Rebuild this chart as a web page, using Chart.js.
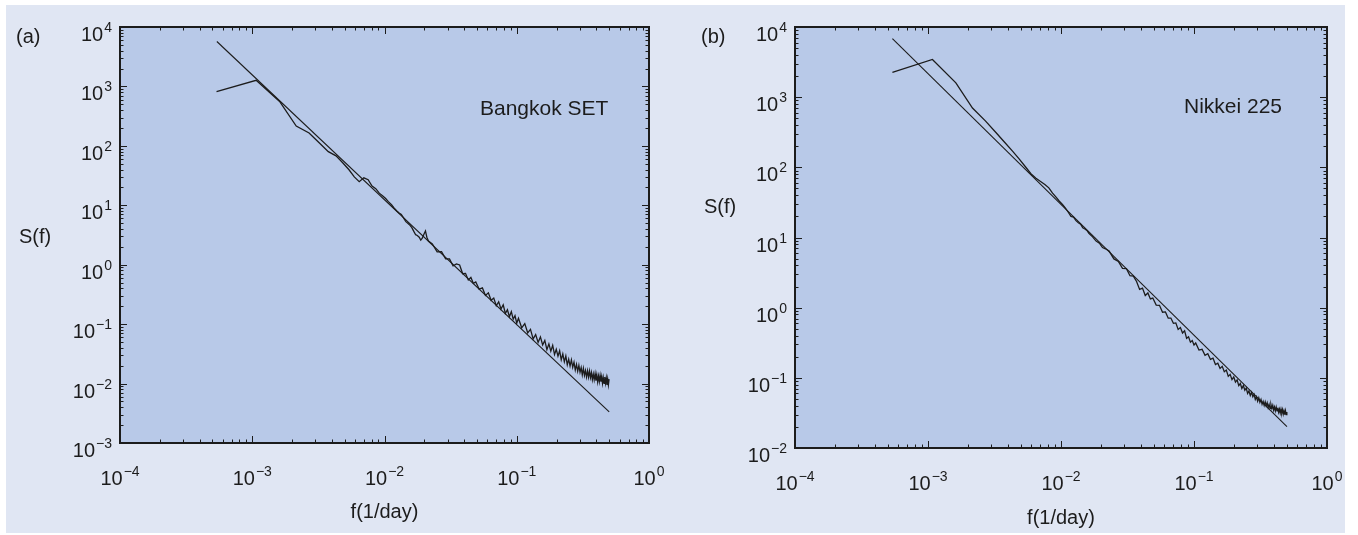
<!DOCTYPE html>
<html>
<head>
<meta charset="utf-8">
<script src="https://cdn.jsdelivr.net/npm/chart.js@4.4.0/dist/chart.umd.min.js"></script>
<style>
  body { margin: 0; background: #fff; }
  #page { position: relative; width: 1358px; height: 535px; background: #fff; overflow: hidden; }
  #panel { position: absolute; left: 6px; top: 5px; width: 1339px; height: 528px; background: #e0e6f3; }
  .box { position: absolute; top: 0; width: 679px; height: 535px; }
</style>
</head>
<body>
<div id="page">
  <div id="panel"></div>
  <div class="box" style="left:0"><canvas id="chartA" width="679" height="535"></canvas></div>
  <div class="box" style="left:679px"><canvas id="chartB" width="679" height="535"></canvas></div>
</div>
<script>
// ---- dados (periodograma, escala log-log) ----
const bangkokFreq = [
  0.000537, 0.00107, 0.00161, 0.00215, 0.00269, 0.00322, 0.00376, 0.0043, 0.00483, 0.00537,
  0.00591, 0.00644, 0.00698, 0.00752, 0.00805, 0.00859, 0.00913, 0.00966, 0.0102, 0.0107,
  0.0113, 0.0118, 0.0124, 0.0129, 0.0134, 0.014, 0.0145, 0.015, 0.0156, 0.0161,
  0.0167, 0.0172, 0.0177, 0.0183, 0.0188, 0.0193, 0.0199, 0.0204, 0.0209, 0.0215,
  0.023, 0.025, 0.027, 0.029, 0.031, 0.033, 0.035, 0.037, 0.039, 0.041,
  0.043, 0.045, 0.047, 0.049, 0.052, 0.055, 0.058, 0.061, 0.064, 0.067,
  0.07, 0.073, 0.076, 0.079, 0.082, 0.085, 0.088, 0.091, 0.094, 0.097, 0.1,
  0.103, 0.109, 0.115, 0.121, 0.127, 0.133, 0.139, 0.145, 0.151, 0.157,
  0.163, 0.169, 0.175, 0.181, 0.187, 0.193, 0.199, 0.205, 0.211, 0.217,
  0.223, 0.229, 0.235, 0.241, 0.247, 0.253, 0.259, 0.265, 0.271, 0.277,
  0.283, 0.289, 0.295, 0.301, 0.307, 0.313, 0.319, 0.325, 0.331, 0.337,
  0.343, 0.349, 0.355, 0.361, 0.367, 0.373, 0.379, 0.385, 0.391, 0.397,
  0.403, 0.409, 0.415, 0.421, 0.427, 0.433, 0.439, 0.445, 0.451, 0.457,
  0.463, 0.469, 0.475, 0.481, 0.487, 0.493, 0.499
];
const bangkokPower = [
  820, 1270, 560, 215, 165, 112, 80, 68, 52, 40,
  30, 25, 29, 27, 21, 19, 16, 14.5, 13, 11.5,
  10.2, 9.0, 8.0, 7.4, 7.0, 6.0, 5.3, 5.0, 4.6, 4.2,
  3.6, 3.2, 3.1, 2.9, 2.6, 2.8, 3.3, 3.7, 2.9, 2.5,
  2.24, 1.64, 1.66, 1.26, 1.25, 0.96, 1.03, 0.99, 0.705, 0.715,
  0.555, 0.611, 0.485, 0.513, 0.387, 0.407, 0.304, 0.336, 0.252, 0.275,
  0.204, 0.238, 0.18, 0.212, 0.151, 0.175, 0.133, 0.162, 0.121, 0.139, 0.104,
  0.1256, 0.0867, 0.1019, 0.0715, 0.0817, 0.0565, 0.0667, 0.0493, 0.061, 0.0446,
  0.0531, 0.0372, 0.0465, 0.035, 0.0439, 0.0308, 0.0377, 0.029, 0.0356, 0.0251,
  0.0315, 0.0232, 0.0292, 0.0207, 0.0257, 0.0197, 0.0251, 0.0188, 0.0229, 0.0169,
  0.021, 0.0161, 0.0202, 0.0155, 0.0186, 0.014, 0.018, 0.0137, 0.0166, 0.0129,
  0.0164, 0.0128, 0.0162, 0.0126, 0.0153, 0.0117, 0.0145, 0.0116, 0.0147, 0.0112,
  0.014, 0.0107, 0.0134, 0.0108, 0.0137, 0.0108, 0.0131, 0.0101, 0.0126, 0.0101,
  0.0129, 0.0102, 0.0124, 0.0095, 0.0119, 0.0095, 0.0119
];

const nikkeiFreq = [
  0.00054, 0.00108, 0.00162, 0.00216, 0.0027, 0.00324, 0.00378, 0.00432, 0.00486, 0.0054,
  0.00594, 0.00648, 0.00702, 0.00756, 0.0081, 0.00864, 0.00918, 0.00972, 0.01026, 0.0108,
  0.01134, 0.01188, 0.01242, 0.01296, 0.0135, 0.01404, 0.01458, 0.01512, 0.01566, 0.0162,
  0.01728, 0.01836, 0.01944, 0.02052, 0.0216,
  0.023, 0.025, 0.027, 0.029, 0.031, 0.033, 0.035, 0.037, 0.039, 0.041,
  0.043, 0.045, 0.047, 0.049, 0.052, 0.055, 0.058, 0.061, 0.064, 0.067,
  0.07, 0.073, 0.076, 0.079, 0.082, 0.085, 0.088, 0.091, 0.094, 0.097, 0.1,
  0.103, 0.109, 0.115, 0.121, 0.127, 0.133, 0.139, 0.145, 0.151, 0.157,
  0.163, 0.169, 0.175, 0.181, 0.187, 0.193, 0.199, 0.205, 0.211, 0.217,
  0.223, 0.229, 0.235, 0.241, 0.247, 0.253, 0.259, 0.265, 0.271, 0.277,
  0.283, 0.289, 0.295, 0.301, 0.307, 0.313, 0.319, 0.325, 0.331, 0.337,
  0.343, 0.349, 0.355, 0.361, 0.367, 0.373, 0.379, 0.385, 0.391, 0.397,
  0.403, 0.409, 0.415, 0.421, 0.427, 0.433, 0.439, 0.445, 0.451, 0.457,
  0.463, 0.469, 0.475, 0.481, 0.487, 0.493, 0.499
];
const nikkeiPower = [
  2250, 3450, 1600, 700, 460, 314, 226, 170, 131, 102,
  81, 70, 63, 57, 51, 43, 37.6, 32.9, 29.5, 26.3,
  22.9, 19.95, 19.5, 17.4, 16.2, 15.5, 13.8, 13.2, 12.6, 11.5,
  10.2, 8.9, 8.3, 7.2, 6.9,
  6.41, 4.95, 4.56, 3.64, 3.61, 2.85, 2.81, 2.36, 1.82, 1.9,
  1.49, 1.62, 1.33, 1.37, 1.09, 1.08, 0.861, 0.869, 0.708, 0.711,
  0.598, 0.607, 0.49, 0.522, 0.435, 0.468, 0.365, 0.384, 0.322, 0.34, 0.294,
  0.314, 0.249, 0.255, 0.209, 0.221, 0.183, 0.191, 0.155, 0.162, 0.136,
  0.146, 0.122, 0.129, 0.105, 0.112, 0.0942, 0.103, 0.0871, 0.0933, 0.0774,
  0.083, 0.0706, 0.0776, 0.0664, 0.0713, 0.06, 0.065, 0.056, 0.0622, 0.0538,
  0.0583, 0.0493, 0.0537, 0.0465, 0.0519, 0.0448, 0.0492, 0.0421, 0.0462, 0.0404,
  0.0456, 0.0398, 0.044, 0.0377, 0.0417, 0.0366, 0.0415, 0.0366, 0.0405, 0.0347,
  0.0385, 0.0338, 0.0384, 0.0338, 0.0375, 0.0323, 0.0357, 0.0315, 0.0358, 0.0316,
  0.0352, 0.0303, 0.0337, 0.0299, 0.034, 0.03, 0.0327
];

// retas de ajuste (lei de potência): dois extremos
const fitFreq = [0.00054, 0.5];
const bangkokFit = [5700, 0.00335];
const nikkeiFit = [6840, 0.0202];

// expoentes dos rótulos dos eixos (10^n)
const xTickExp = [-4, -3, -2, -1, 0];
const yTickExpA = [-3, -2, -1, 0, 1, 2, 3, 4];
const yTickExpB = [-2, -1, 0, 1, 2, 3, 4];

const FONT = '"Liberation Sans", Arial, Helvetica, sans-serif';
const INK = '#1c1c1c';

function toPoints(xs, ys) {
  return xs.map((x, i) => ({ x: x, y: ys[i] }));
}

function supText(n) {
  return n < 0 ? '\u2212' + Math.abs(n) : String(n);
}

// desenha "10" com expoente sobrescrito
function drawPow(ctx, n, x, yBase, align) {
  ctx.font = '20px ' + FONT;
  const wBase = ctx.measureText('10').width;
  ctx.font = '14px ' + FONT;
  const e = supText(n);
  const wExp = ctx.measureText(e).width;
  const total = wBase + wExp + 1;
  let x0 = align === 'right' ? x - total : x - total / 2;
  ctx.textAlign = 'left';
  ctx.textBaseline = 'alphabetic';
  ctx.font = '20px ' + FONT;
  ctx.fillText('10', x0, yBase);
  ctx.font = '14px ' + FONT;
  ctx.fillText(e, x0 + wBase + 1, yBase - 9);
}

const framePlugin = {
  id: 'frame',
  beforeDraw(chart, args, opts) {
    const { ctx, chartArea: a } = chart;
    ctx.save();
    ctx.fillStyle = '#b8c9e8';
    ctx.fillRect(a.left, a.top, a.right - a.left, a.bottom - a.top);
    ctx.restore();
  },
  afterDraw(chart, args, opts) {
    const { ctx, chartArea: a } = chart;
    const xs = chart.scales.x, ys = chart.scales.y;
    ctx.save();
    ctx.strokeStyle = INK;
    ctx.fillStyle = INK;

    // marcas (maiores e menores) nos quatro lados, para dentro
    ctx.lineWidth = 1;
    const xMin = Math.log10(xs.min), xMax = Math.log10(xs.max);
    for (let d = xMin; d <= xMax; d++) {
      for (let m = 1; m <= 9; m++) {
        if (d === xMax && m > 1) break;
        const px = Math.round(xs.getPixelForValue(m * Math.pow(10, d))) + 0.5;
        const len = m === 1 ? 7 : 3.5;
        ctx.beginPath();
        ctx.moveTo(px, a.bottom); ctx.lineTo(px, a.bottom - len);
        ctx.moveTo(px, a.top); ctx.lineTo(px, a.top + len);
        ctx.stroke();
      }
    }
    const yMin = Math.log10(ys.min), yMax = Math.log10(ys.max);
    for (let d = yMin; d <= yMax; d++) {
      for (let m = 1; m <= 9; m++) {
        if (d === yMax && m > 1) break;
        const py = Math.round(ys.getPixelForValue(m * Math.pow(10, d))) + 0.5;
        const len = m === 1 ? 7 : 3.5;
        ctx.beginPath();
        ctx.moveTo(a.left, py); ctx.lineTo(a.left + len, py);
        ctx.moveTo(a.right, py); ctx.lineTo(a.right - len, py);
        ctx.stroke();
      }
    }

    // moldura
    ctx.lineWidth = 2;
    ctx.strokeRect(a.left, a.top, a.right - a.left, a.bottom - a.top);

    // rótulos dos eixos
    opts.xExp.forEach(n => {
      drawPow(ctx, n, xs.getPixelForValue(Math.pow(10, n)), a.bottom + 42, 'center');
    });
    opts.yExp.forEach(n => {
      drawPow(ctx, n, a.left - 8, ys.getPixelForValue(Math.pow(10, n)) + 14, 'right');
    });

    // títulos e anotações
    ctx.textBaseline = 'alphabetic';
    ctx.font = '20px ' + FONT;
    ctx.textAlign = 'left';
    ctx.fillText(opts.panel, opts.panelX, 43);
    ctx.fillText('S(f)', opts.yTitleX, opts.yTitleY);
    ctx.textAlign = 'center';
    ctx.fillText('f(1/day)', (a.left + a.right) / 2, opts.xTitleY);
    ctx.font = '21px ' + FONT;
    ctx.textAlign = 'left';
    ctx.fillText(opts.label, opts.labelX, opts.labelY);
    ctx.restore();
  }
};

function makePanel(id, freq, power, fit, yMin, pad, frameOpts) {
  return new Chart(document.getElementById(id), {
    type: 'line',
    data: {
      datasets: [
        {
          data: toPoints(freq, power),
          borderColor: INK,
          borderWidth: 1.3,
          pointRadius: 0,
          tension: 0,
          fill: false
        },
        {
          data: toPoints(fitFreq, fit),
          borderColor: INK,
          borderWidth: 1.1,
          pointRadius: 0,
          tension: 0,
          fill: false
        }
      ]
    },
    options: {
      responsive: false,
      animation: false,
      layout: { padding: pad },
      plugins: {
        legend: { display: false },
        tooltip: { enabled: false },
        frame: frameOpts
      },
      scales: {
        x: { type: 'logarithmic', min: 1e-4, max: 1, display: false },
        y: { type: 'logarithmic', min: yMin, max: 1e4, display: false }
      }
    },
    plugins: [framePlugin]
  });
}

makePanel('chartA', bangkokFreq, bangkokPower, bangkokFit, 1e-3,
  { left: 120, right: 30, top: 27, bottom: 92 },
  { xExp: xTickExp, yExp: yTickExpA, panel: '(a)', panelX: 16,
    yTitleX: 19, yTitleY: 243, xTitleY: 518,
    label: 'Bangkok SET', labelX: 480, labelY: 115 });

makePanel('chartB', nikkeiFreq, nikkeiPower, nikkeiFit, 1e-2,
  { left: 116, right: 31, top: 27, bottom: 87 },
  { xExp: xTickExp, yExp: yTickExpB, panel: '(b)', panelX: 22,
    yTitleX: 25, yTitleY: 213, xTitleY: 524,
    label: 'Nikkei 225', labelX: 505, labelY: 113 });
</script>
</body>
</html>
